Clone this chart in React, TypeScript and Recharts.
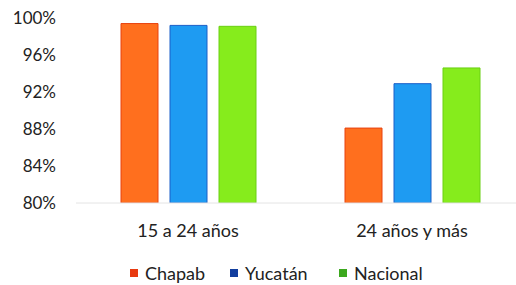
import React from 'react';
import { BarChart, Bar, XAxis, YAxis, Legend } from 'recharts';

const categories = ['15 a 24 años', '24 años y más'];
const chapab = [99.4, 88.1];
const yucatan = [99.2, 92.9];
const nacional = [99.1, 94.6];
const yTicks = [80, 84, 88, 92, 96, 100];

const series = [
  { key: 'Chapab', fill: '#FF6F1E', stroke: '#E8420E', legend: '#E83A10' },
  { key: 'Yucatán', fill: '#1E9BF2', stroke: '#1A5FC8', legend: '#123E9E' },
  { key: 'Nacional', fill: '#86EC1C', stroke: '#6AD012', legend: '#3CA81E' },
];

const data = categories.map((c, i) => ({
  name: c,
  Chapab: chapab[i],
  'Yucatán': yucatan[i],
  Nacional: nacional[i],
}));

const FONT = 'Lato, "Open Sans", sans-serif';
const legendLeft = [130, 230, 339];

const LegendContent = () => (
  <div style={{ position: 'relative', height: 24, fontFamily: FONT, fontSize: 18, color: '#222' }}>
    {series.map((s, i) => (
      <div key={s.key} style={{ position: 'absolute', left: legendLeft[i], top: 0, display: 'flex', alignItems: 'center', whiteSpace: 'nowrap' }}>
        <span style={{ display: 'inline-block', width: 8, height: 8, background: s.legend, marginRight: 7 }} />
        <span>{s.key}</span>
      </div>
    ))}
  </div>
);

export default function App() {
  return (
    <div style={{ position: 'absolute', left: 0, top: 0, width: 516, height: 285, overflow: 'hidden', background: '#fff' }}>
      <BarChart
        width={530}
        height={285}
        data={data}
        margin={{ top: 18, right: 6, bottom: 18, left: 0 }}
        barSize={37}
        barGap={12}
      >
        <XAxis
          dataKey="name"
          height={40}
          axisLine={{ stroke: '#e4e4e4' }}
          tickLine={false}
          tickMargin={15}
          tick={{ fill: '#222', fontSize: 18, fontFamily: FONT }}
        />
        <YAxis
          width={76}
          domain={[80, 100]}
          ticks={yTicks}
          interval={0}
          axisLine={false}
          tickLine={false}
          tickMargin={14}
          tickFormatter={(v: number) => `${v}%`}
          tick={{ fill: '#222', fontSize: 17, fontFamily: FONT }}
          allowDataOverflow
        />
        <Legend
          content={<LegendContent />}
          wrapperStyle={{ position: 'absolute', top: 262, left: 0, width: 516 }}
        />
        {series.map((s) => (
          <Bar key={s.key} dataKey={s.key} fill={s.fill} stroke={s.stroke} strokeWidth={1} isAnimationActive={false} />
        ))}
      </BarChart>
    </div>
  );
}
